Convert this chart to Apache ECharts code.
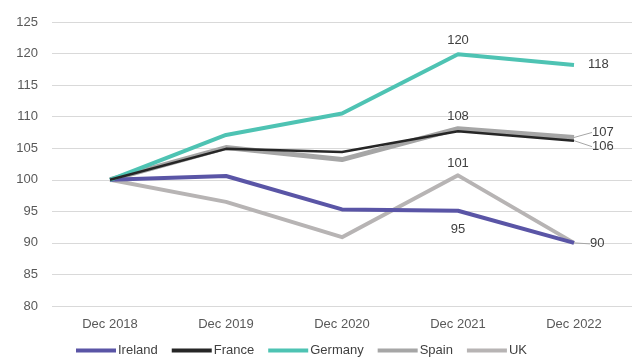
<!DOCTYPE html>
<html>
<head>
<meta charset="utf-8">
<script src="https://cdn.jsdelivr.net/npm/echarts@6/dist/echarts.min.js"></script>
<style>
  html, body { margin: 0; padding: 0; background: #fff; }
  #chart { width: 632px; height: 358px; }
</style>
</head>
<body>
<div id="chart"></div>
<script>
// Index values (Dec 2018 = 100)
const categories = ['Dec 2018', 'Dec 2019', 'Dec 2020', 'Dec 2021', 'Dec 2022'];
const ireland = [100, 100.6, 95.3, 95.1, 90.0];
const france  = [100, 104.9, 104.4, 107.7, 106.2];
const germany = [100, 107.1, 110.5, 119.9, 118.2];
const spain   = [100, 105.1, 103.2, 108.1, 106.7];
const uk      = [100, 96.5, 90.9, 100.7, 90.0];
const yTicks  = { min: 80, max: 125, step: 5 };

const FONT = '"Liberation Sans", Arial, sans-serif';
const labelStyle = { color: '#404040', fontSize: 13, fontFamily: FONT };
const leader = { show: true, lineStyle: { color: '#a6a6a6', width: 1 } };

// Attach a value label (and optionally a leader line) to selected points
function withLabels(values, labels) {
  return values.map((v, i) => {
    if (!labels[i]) return v;
    const item = {
      value: v,
      label: Object.assign({ show: true, formatter: p => String(Math.round(p.value)) }, labelStyle, labels[i].label)
    };
    if (labels[i].line) item.labelLine = leader;
    return item;
  });
}

function lineSeries(name, values, color, width, labels, z, shift) {
  const s = {
    name, type: 'line', data: withLabels(values, labels || {}),
    symbol: 'circle', symbolSize: 0, showAllSymbol: true, z: z,
    lineStyle: { color, width, join: 'round' },
    itemStyle: { color },
    label: { show: false },
    labelLine: { show: false },
    emphasis: { disabled: true }
  };
  if (shift) {
    s.labelLayout = p => (p.dataIndex === values.length - 1 ? shift : {});
  }
  return s;
}

const option = {
  animation: false,
  grid: { left: 52, right: 0, top: 22, bottom: 52 },
  xAxis: {
    type: 'category', data: categories, boundaryGap: true,
    axisLine: { show: false }, axisTick: { show: false },
    axisLabel: { color: '#595959', fontSize: 13, fontFamily: FONT, margin: 12 }
  },
  yAxis: {
    type: 'value', min: yTicks.min, max: yTicks.max, interval: yTicks.step,
    axisLine: { show: false }, axisTick: { show: false },
    axisLabel: { color: '#595959', fontSize: 13, fontFamily: FONT, margin: 14 },
    splitLine: { lineStyle: { color: '#d9d9d9', width: 1 } }
  },
  legend: {
    bottom: -4, left: 71, itemWidth: 40, itemHeight: 4, itemGap: 14,
    icon: 'rect',
    textStyle: { color: '#404040', fontSize: 13, fontFamily: FONT, padding: [0, 0, 0, -3] },
    data: ['Ireland', 'France', 'Germany', 'Spain', 'UK']
  },
  series: [
    lineSeries('Ireland', ireland, '#5a55a6', 4, {
      3: { label: { position: 'bottom', distance: 12 } }
    }, 3),
    lineSeries('France', france, '#262626', 2.5, {
      4: { label: { position: 'right', distance: 4 }, line: true }
    }, 4, { dx: 14, dy: 6 }),
    lineSeries('Germany', germany, '#4ec3b3', 4, {
      3: { label: { position: 'top', distance: 7 } },
      4: { label: { position: 'right', distance: 14 } }
    }, 3),
    lineSeries('Spain', spain, '#a6a6a6', 5, {
      3: { label: { position: 'top', distance: 6 } },
      4: { label: { position: 'right', distance: 4 }, line: true }
    }, 2, { dx: 14, dy: -5 }),
    lineSeries('UK', uk, '#b7b4b4', 4, {
      3: { label: { position: 'top', distance: 5 } },
      4: { label: { position: 'right', distance: 4 }, line: true }
    }, 1, { dx: 12, dy: 1 })
  ]
};

echarts.init(document.getElementById('chart'), null, { renderer: 'canvas' }).setOption(option);
</script>
</body>
</html>
